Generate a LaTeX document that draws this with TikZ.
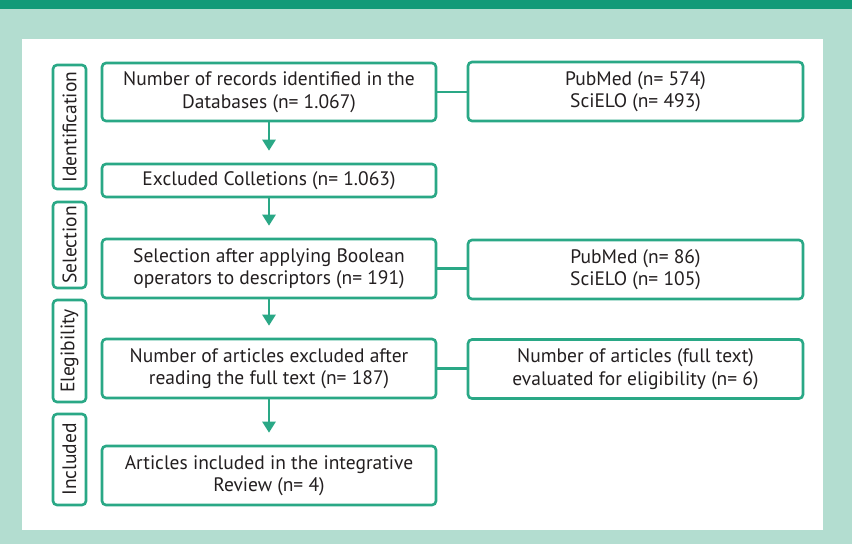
\documentclass[tikz,border=0pt]{standalone}
\usepackage{fontspec}
\setmainfont{PT Sans}
\usetikzlibrary{arrows.meta}
\definecolor{bandgreen}{HTML}{129A78}
\definecolor{lightgreen}{HTML}{B3DDD0}
\definecolor{boxgreen}{HTML}{2AA886}
\definecolor{textcol}{HTML}{231F20}
\tikzset{
  flowbox/.style={draw=boxgreen, line width=2.6pt, rounded corners=4pt, fill=white,
    inner sep=2pt, align=center, text=textcol,
    font=\fontsize{19.5}{22.5}\selectfont},
  stagebox/.style={draw=boxgreen, line width=2.6pt, rounded corners=4pt, fill=white,
    inner sep=0pt, text=textcol, minimum width=33pt,
    font=\fontsize{19.5}{22.5}\selectfont},
  flowarrow/.style={draw=boxgreen, line width=2.6pt, -{Triangle[length=11pt,width=13pt]}, shorten >=12pt},
  flowline/.style={draw=boxgreen, line width=2.6pt}
}
\begin{document}
\begin{tikzpicture}[x=1pt,y=1pt]
\fill[lightgreen] (0,0) rectangle (852,-544);
\fill[bandgreen] (0,0) rectangle (852,-9);
\fill[white] (22,-39) rectangle (823,-530);
\useasboundingbox (0,0) rectangle (852,-544);

% stage labels
\node[stagebox, minimum height=124pt] (lid) at (69.5,-127) {\rotatebox{90}{Identification}};
\node[stagebox, minimum height=86pt] (lsel) at (69.5,-245) {\rotatebox{90}{Selection}};
\node[stagebox, minimum height=102pt] (lel) at (69.5,-351) {\rotatebox{90}{Elegibility}};
\node[stagebox, minimum height=91pt] (lin) at (69.5,-459.5) {\rotatebox{90}{Included}};

% main column
\node[flowbox, minimum width=334pt, minimum height=58pt] (b1) at (269,-92) {Number of records identified in the\\Databases (n= 1.067)};
\node[flowbox, minimum width=334pt, minimum height=33pt] (b2) at (269,-180.5) {Excluded Colletions (n= 1.063)};
\node[flowbox, minimum width=334pt, minimum height=59pt] (b3) at (269,-268.5) {Selection after applying Boolean\\operators to descriptors (n= 191)};
\node[flowbox, minimum width=334pt, minimum height=59pt] (b4) at (269,-368.5) {Number of articles excluded after\\reading the full text (n= 187)};
\node[flowbox, minimum width=334pt, minimum height=59pt] (b5) at (269,-475.5) {Articles included in the integrative\\Review (n= 4)};

% right column
\node[flowbox, minimum width=335pt, minimum height=59pt] (r1) at (635.5,-91.5) {PubMed (n= 574)\\SciELO (n= 493)};
\node[flowbox, minimum width=335pt, minimum height=59pt] (r2) at (635.5,-269.5) {PubMed (n= 86)\\SciELO (n= 105)};
\node[flowbox, minimum width=335pt, minimum height=59pt] (r3) at (635.5,-369) {Number of articles (full text)\\evaluated for eligibility (n= 6)};

% arrows
\draw[flowarrow] (b1.south) -- (b2.north);
\draw[flowarrow] (b2.south) -- (b3.north);
\draw[flowarrow] (b3.south) -- (b4.north);
\draw[flowarrow] (b4.south) -- (b5.north);

% side connectors
\draw[flowline] (b1.east) -- (b1.east -| r1.west);
\draw[flowline] (b3.east) -- (b3.east -| r2.west);
\draw[flowline] (b4.east) -- (b4.east -| r3.west);
\end{tikzpicture}
\end{document}
